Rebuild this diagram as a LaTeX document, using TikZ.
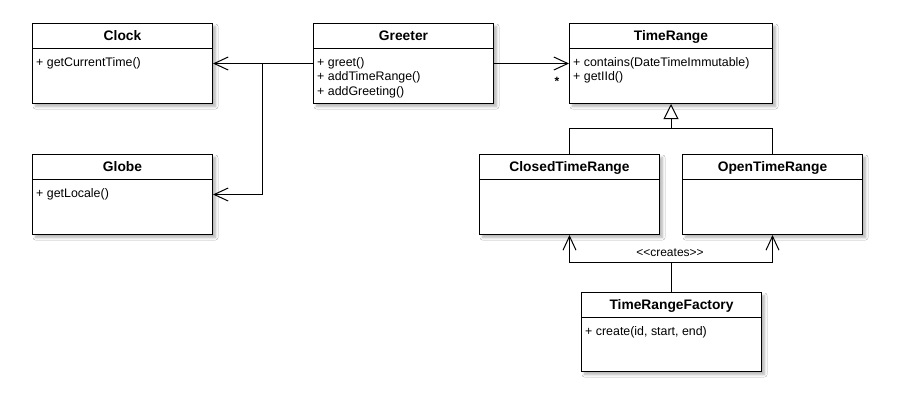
\documentclass[tikz,border=0pt]{standalone}
\usepackage{fontspec}
\setmainfont{Liberation Sans}
\usetikzlibrary{arrows.meta,shadows.blur}
\tikzset{
  cls/.style={draw, fill=white, line width=1pt, anchor=north west, inner sep=0pt,
    blur shadow={shadow xshift=3pt, shadow yshift=-3pt, shadow blur radius=2.5pt, shadow blur steps=6, shadow opacity=30}},
  ttl/.style={font=\bfseries\fontsize{13.8}{16}\selectfont, anchor=base, inner sep=0pt},
  mem/.style={font=\fontsize{12.4}{14.5}\selectfont, anchor=north west, align=left, inner sep=0pt},
  ln/.style={line width=1pt},
  opn/.style={ln, -{Straight Barb[length=14pt,width=13pt]}},
  inh/.style={ln, -{Triangle[open, length=15pt, width=15pt, fill=white]}},
  lbl/.style={font=\fontsize{12}{14}\selectfont, inner sep=0pt},
}
\newcommand\umlclass[7]{%
  \node[cls, minimum width=#4pt, minimum height=#5pt] (#1) at (#2,#3) {};
  \draw[ln] ([yshift=-25pt]#1.north west) -- ([yshift=-25pt]#1.north east);
  \node[ttl] (#1-t) at ([yshift=-17.5pt]#1.north) {#6};
  \node[mem] (#1-m) at ([xshift=4pt,yshift=-34pt]#1.north west) {\rule{0pt}{9pt}#7};
}
\begin{document}
\begin{tikzpicture}[x=1pt,y=-1pt]
  \useasboundingbox[fill=white] (0,0) rectangle (900,400);
  \umlclass{clock}{32}{23}{180}{80}{Clock}{+ getCurrentTime()}
  \umlclass{globe}{32}{154}{180}{80}{Globe}{+ getLocale()}
  \umlclass{greeter}{313}{23}{180}{80}{Greeter}{+ greet()\\+ addTimeRange()\\+ addGreeting()}
  \umlclass{timerange}{569}{23}{203}{80}{TimeRange}{+ contains(DateTimeImmutable)\\+ getIId()}
  \umlclass{closed}{479}{154}{180}{80}{ClosedTimeRange}{}
  \umlclass{open}{682}{154}{180}{80}{OpenTimeRange}{}
  \umlclass{factory}{581}{292}{180}{79}{TimeRangeFactory}{+ create(id, start, end)}

  % Greeter dependencies
  \draw[opn] (greeter.west) -- (clock.east);
  \coordinate (gj) at ([xshift=-51pt]greeter.west);
  \draw[opn] (gj) |- (globe.east);
  \draw[opn] (greeter.east) -- (timerange.west);
  \node[font=\bfseries\fontsize{12}{14}\selectfont, inner sep=0pt] (star) at (557,81) {*};

  % Inheritance
  \coordinate (ij) at (timerange.south |- 0,128.5);
  \draw[inh] (ij) -- (timerange.south);
  \draw[ln] (closed.north) |- (ij);
  \draw[ln] (open.north) |- (ij);

  % Factory creates
  \coordinate (fj) at (factory.north |- 0,262);
  \draw[ln] (factory.north) -- (fj);
  \draw[opn] (fj) -| (closed.south);
  \draw[opn] (fj) -| (open.south);
  \node[lbl] (creates) at (670,253) {<{}<creates>{}>};
\end{tikzpicture}
\end{document}
